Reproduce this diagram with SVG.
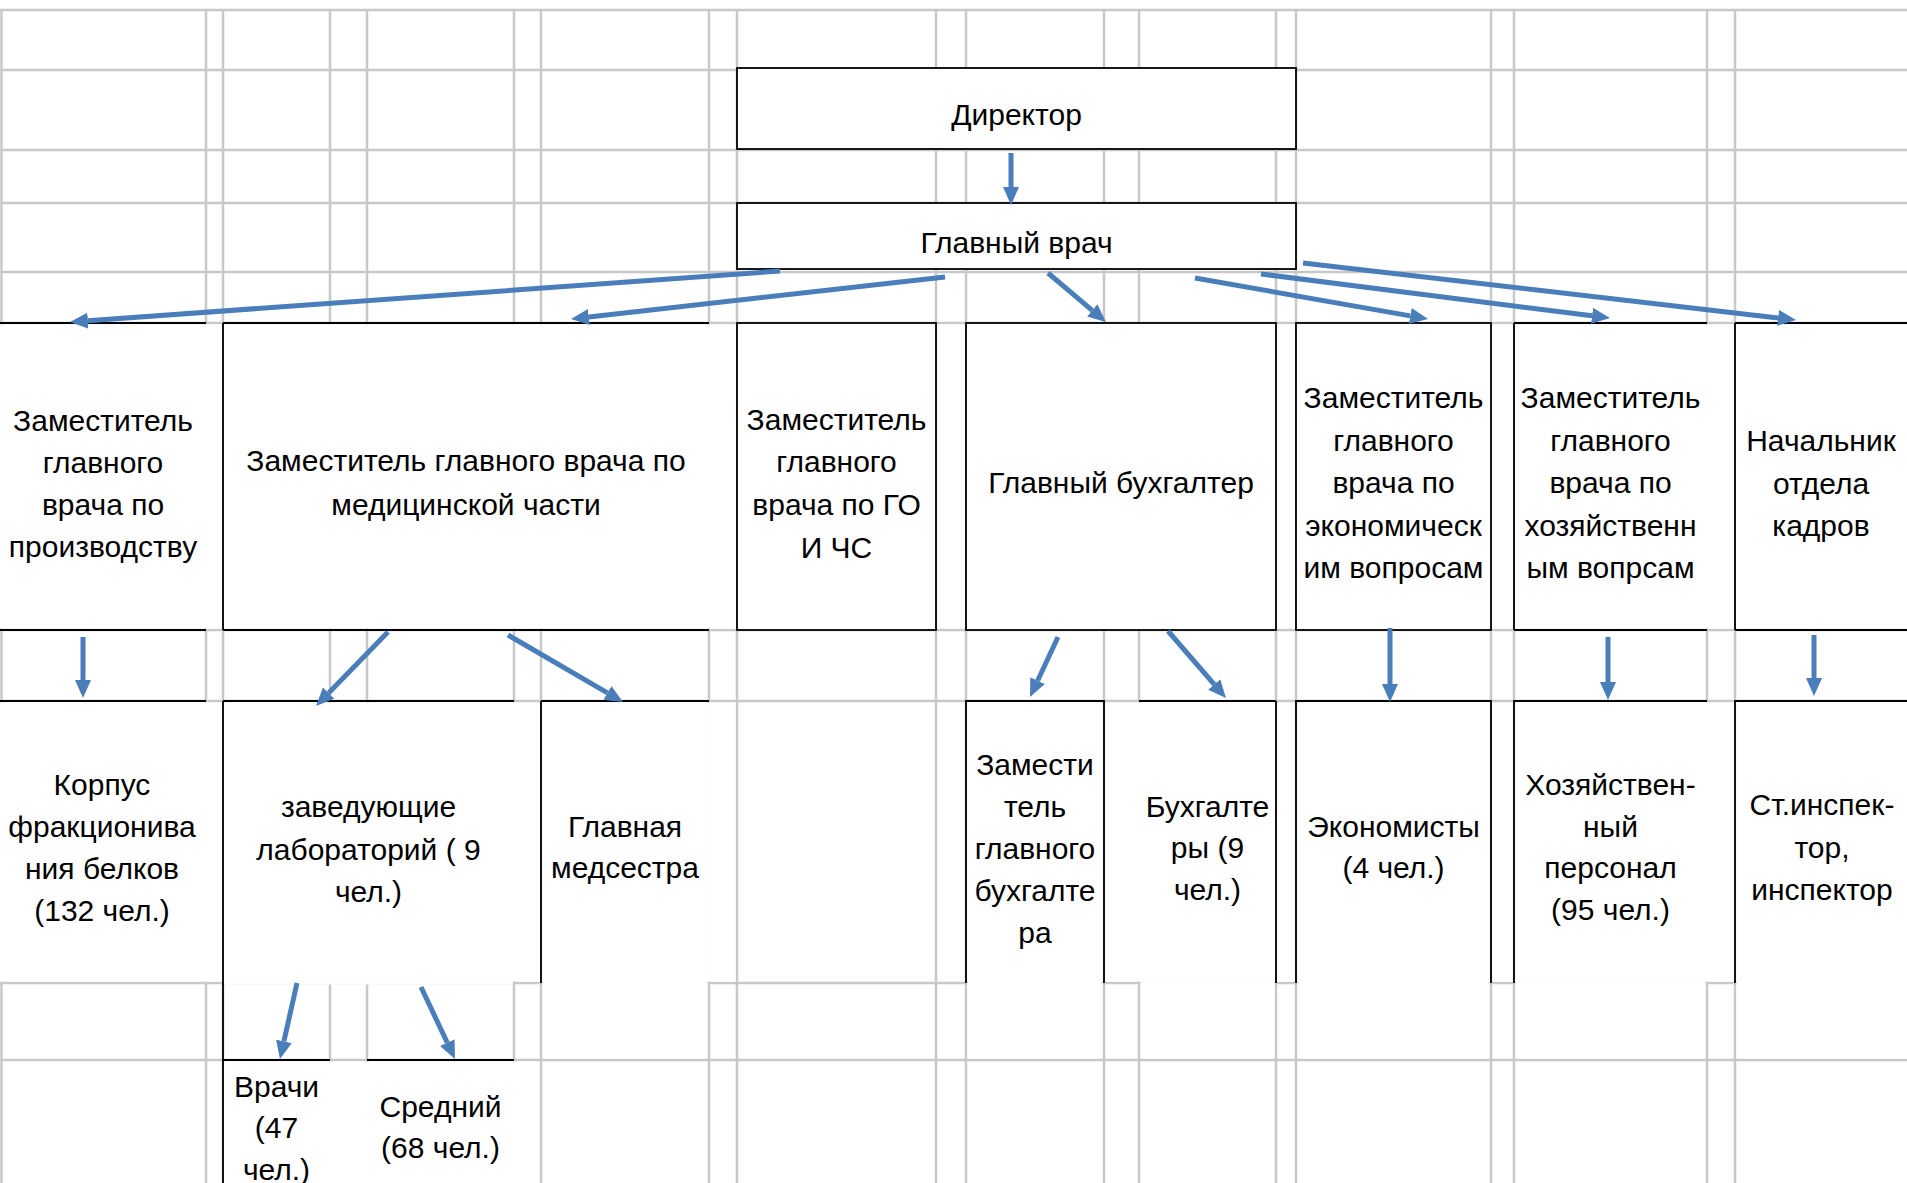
<svg xmlns="http://www.w3.org/2000/svg" width="1907" height="1183" viewBox="0 0 1907 1183">
<defs>
<style>
.g{stroke:#c8c8c8;stroke-width:2.5;fill:none}
.b{stroke:#000;stroke-width:1.8;fill:none}
.w{fill:#fff;stroke:none}
.bx{fill:#fff;stroke:#000;stroke-width:1.8}
.t{font-family:"Liberation Sans",Arial,sans-serif;font-size:30px;fill:#000;text-anchor:middle}
.a{stroke:#4a7ebb;stroke-width:5;fill:none;marker-end:url(#ah)}
</style>
<marker id="ah" markerUnits="userSpaceOnUse" markerWidth="18" markerHeight="16" viewBox="0 0 18 16" refX="0" refY="8" orient="auto"><path d="M0,0 L18,8 L0,16 Z" fill="#4a7ebb"/></marker>
</defs>
<rect width="1907" height="1183" fill="#fff"/>
<g id="grid">
<path class="g" d="M0 10H1907 M0 70H1907 M0 150H1907 M0 203H1907 M0 272H1907 M0 323H1907 M0 630H1907 M0 701H1907 M0 983H1907 M0 1060H1907 M1.5 10V1183 M206 10V1183 M223 10V1183 M330 10V1183 M367 10V1183 M514 10V1183 M541 10V1183 M709 10V1183 M737 10V1183 M936 10V1183 M966 10V1183 M1104 10V1183 M1139 10V1183 M1276 10V1183 M1296 10V1183 M1491 10V1183 M1514 10V1183 M1707 10V1183 M1735 10V1183"/>
</g>
<g id="n-director"><rect class="bx" x="737" y="68" width="559" height="81"/><text class="t" x="1016.5" y="125">Директор</text></g>
<g id="n-glavvrach"><rect class="bx" x="737" y="203" width="559" height="66"/><text class="t" x="1016.5" y="253">Главный врач</text></g>
<g id="n-zam-proizv"><rect class="w" x="0" y="324.5" width="222" height="304"/><path class="b" d="M0 323H206 M0 630H206"/><text class="t"><tspan x="103" y="431">Заместитель</tspan><tspan x="103" y="473">главного</tspan><tspan x="103" y="515">врача по</tspan><tspan x="103" y="557">производству</tspan></text></g>
<g id="n-zam-med"><rect class="w" x="224" y="324.5" width="512" height="304"/><path class="b" d="M223 323V630 M223 323H709 M223 630H709"/><text class="t"><tspan x="466" y="471">Заместитель главного врача по</tspan><tspan x="466" y="515">медицинской части</tspan></text></g>
<g id="n-zam-go"><rect class="w" x="937.5" y="324.5" width="27.5" height="304"/><rect class="bx" x="737" y="323" width="199" height="307"/><text class="t"><tspan x="836.5" y="430">Заместитель</tspan><tspan x="836.5" y="472">главного</tspan><tspan x="836.5" y="515">врача по ГО</tspan><tspan x="836.5" y="558">И ЧС</tspan></text></g>
<g id="n-glavbuh"><rect class="w" x="1277" y="324.5" width="18" height="304"/><rect class="bx" x="966" y="323" width="310" height="307"/><text class="t" x="1121" y="493">Главный бухгалтер</text></g>
<g id="n-zam-econ"><rect class="w" x="1492" y="324.5" width="21" height="304"/><rect class="bx" x="1296" y="323" width="195" height="307"/><text class="t"><tspan x="1393.5" y="408">Заместитель</tspan><tspan x="1393.5" y="450.5">главного</tspan><tspan x="1393.5" y="493">врача по</tspan><tspan x="1393.5" y="535.5">экономическ</tspan><tspan x="1393.5" y="578">им вопросам</tspan></text></g>
<g id="n-zam-hoz"><rect class="w" x="1515" y="324.5" width="219" height="304"/><path class="b" d="M1514 323V630 M1514 323H1707 M1514 630H1707"/><text class="t"><tspan x="1610.5" y="408">Заместитель</tspan><tspan x="1610.5" y="450.5">главного</tspan><tspan x="1610.5" y="493">врача по</tspan><tspan x="1610.5" y="535.5">хозяйственн</tspan><tspan x="1610.5" y="578">ым вопрсам</tspan></text></g>
<g id="n-kadry"><rect class="w" x="1736" y="324.5" width="171" height="304"/><path class="b" d="M1735 323V630 M1735 323H1907 M1735 630H1907"/><text class="t"><tspan x="1821" y="451">Начальник</tspan><tspan x="1821" y="494">отдела</tspan><tspan x="1821" y="536">кадров</tspan></text></g>
<g id="n-korpus"><rect class="w" x="0" y="702.5" width="222" height="279"/><path class="b" d="M0 701H206"/><text class="t"><tspan x="102" y="795">Корпус</tspan><tspan x="102" y="837">фракционива</tspan><tspan x="102" y="879">ния белков</tspan><tspan x="102" y="921">(132 чел.)</tspan></text></g>
<g id="n-zavlab"><rect class="w" x="224" y="702.5" width="316" height="279"/><rect class="w" x="224" y="981.5" width="289" height="3"/><path class="b" d="M223 701V1060 M223 701H514 M541 701V983"/><text class="t"><tspan x="368.5" y="817">заведующие</tspan><tspan x="368.5" y="860">лабораторий ( 9</tspan><tspan x="368.5" y="902">чел.)</tspan></text></g>
<g id="n-vrachi"><rect class="w" x="224" y="1061.5" width="124" height="122"/><path class="b" d="M223 1060V1183 M223 1060H330"/><text class="t"><tspan x="276.5" y="1097">Врачи</tspan><tspan x="276.5" y="1138">(47</tspan><tspan x="276.5" y="1180">чел.)</tspan></text></g>
<g id="n-sredniy"><rect class="w" x="348" y="1061.5" width="191.5" height="122"/><path class="b" d="M367 1060H514"/><text class="t"><tspan x="440.5" y="1117">Средний</tspan><tspan x="440.5" y="1158">(68 чел.)</tspan></text></g>
<g id="n-medsestra"><rect class="w" x="542.5" y="702.5" width="165" height="356"/><rect class="w" x="707.5" y="702.5" width="28" height="279"/><path class="b" d="M541 701H709"/><text class="t"><tspan x="625" y="837">Главная</tspan><tspan x="625" y="878">медсестра</tspan></text></g>
<g id="n-zam-glavbuh"><rect class="w" x="967.5" y="702.5" width="135" height="356"/><path class="b" d="M966 983V701H1104V983"/><text class="t"><tspan x="1035" y="775">Замести</tspan><tspan x="1035" y="817">тель</tspan><tspan x="1035" y="859">главного</tspan><tspan x="1035" y="901">бухгалте</tspan><tspan x="1035" y="943">ра</tspan></text></g>
<g id="n-buhgaltery"><rect class="w" x="1105.5" y="702.5" width="169.5" height="279"/><rect class="w" x="1140.5" y="981.5" width="134" height="77"/><rect class="w" x="1277.5" y="702.5" width="17" height="279"/><path class="b" d="M1139 701H1276 M1276 701V983"/><text class="t"><tspan x="1207.5" y="817">Бухгалте</tspan><tspan x="1207.5" y="858">ры (9</tspan><tspan x="1207.5" y="900">чел.)</tspan></text></g>
<g id="n-economisty"><rect class="w" x="1297.5" y="702.5" width="192" height="356"/><rect class="w" x="1492.5" y="702.5" width="20" height="279"/><path class="b" d="M1296 983V701H1491V983"/><text class="t"><tspan x="1393.5" y="837">Экономисты</tspan><tspan x="1393.5" y="878">(4 чел.)</tspan></text></g>
<g id="n-hoz-personal"><rect class="w" x="1515.5" y="702.5" width="218" height="279"/><rect class="w" x="1515.5" y="981.5" width="190" height="77"/><path class="b" d="M1514 983V701H1707"/><text class="t"><tspan x="1610.5" y="795">Хозяйствен-</tspan><tspan x="1610.5" y="837">ный</tspan><tspan x="1610.5" y="878">персонал</tspan><tspan x="1610.5" y="920">(95 чел.)</tspan></text></g>
<g id="n-inspector"><rect class="w" x="1736.5" y="702.5" width="171" height="356"/><path class="b" d="M1735 983V701H1907"/><text class="t"><tspan x="1822" y="815">Ст.инспек-</tspan><tspan x="1822" y="858">тор,</tspan><tspan x="1822" y="900">инспектор</tspan></text></g>
<g id="connectors">
<line class="a" x1="1011" y1="153" x2="1011" y2="187"/>
<line class="a" x1="780" y1="271" x2="87.9" y2="320.7"/>
<line class="a" x1="945" y1="277" x2="588.9" y2="317"/>
<line class="a" x1="1048" y1="273" x2="1092.2" y2="310.4"/>
<line class="a" x1="1195" y1="278" x2="1410.3" y2="315.9"/>
<line class="a" x1="1261" y1="274" x2="1592.1" y2="315.8"/>
<line class="a" x1="1303" y1="263" x2="1778.1" y2="317.9"/>
<line class="a" x1="83" y1="637" x2="83" y2="680"/>
<line class="a" x1="388" y1="632" x2="328.6" y2="693.1"/>
<line class="a" x1="508" y1="635" x2="607.4" y2="692.9"/>
<line class="a" x1="1058" y1="637" x2="1037.6" y2="680.7"/>
<line class="a" x1="1168" y1="631" x2="1214.2" y2="684.4"/>
<line class="a" x1="1390" y1="628" x2="1390" y2="684"/>
<line class="a" x1="1608" y1="637" x2="1608" y2="682"/>
<line class="a" x1="1814" y1="635" x2="1814" y2="678"/>
<line class="a" x1="297" y1="983" x2="283.9" y2="1041.4"/>
<line class="a" x1="421" y1="987" x2="447.3" y2="1042.7"/>
</g>
</svg>
